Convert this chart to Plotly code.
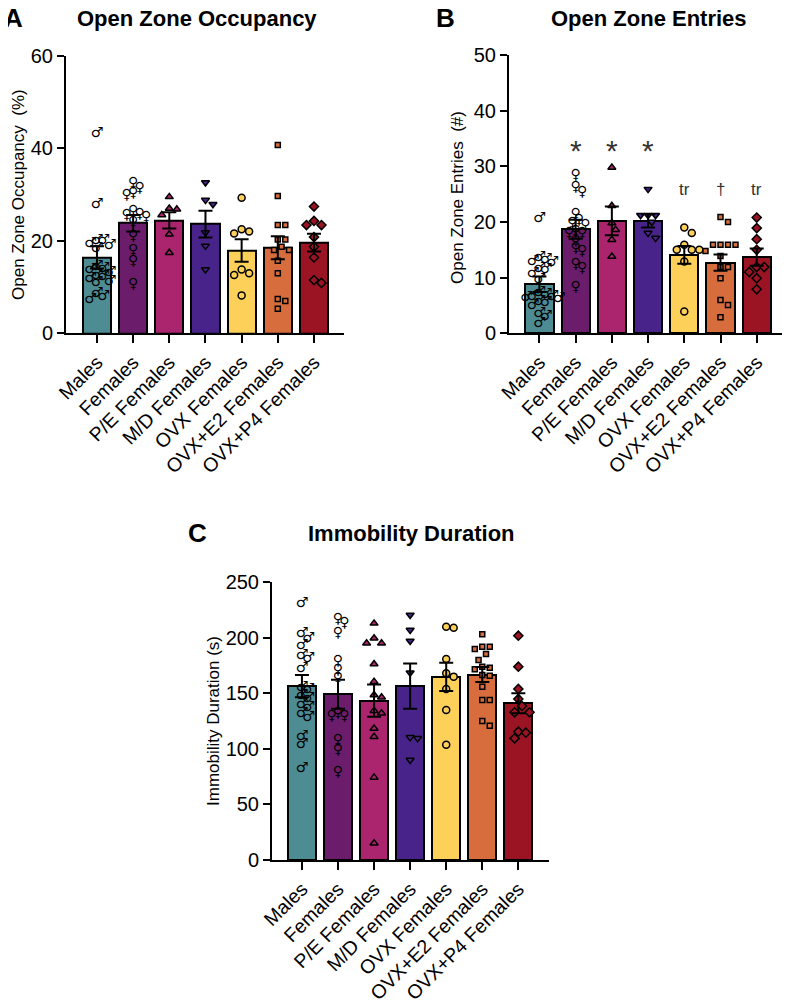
import plotly.graph_objects as go

# ---------------- data ----------------
groups = ["Males", "Females", "P/E Females", "M/D Females", "OVX Females",
          "OVX+E2 Females", "OVX+P4 Females"]
colors = ["#4E8C94", "#6B1C6A", "#AA246E", "#48248A", "#FDD05A", "#D76C3C", "#9B1423"]
symbols = ["male", "female", "triangle-up", "triangle-down", "circle", "square", "diamond"]

# Panel A: Open Zone Occupancy (%)
occ_mean = [16.4, 23.8, 24.4, 23.6, 17.9, 18.5, 19.6]
occ_sem = [2.4, 1.8, 1.75, 2.9, 2.45, 2.5, 1.9]
occ_males = [43.2, 27.9, 18.9, 20.0, 20.0, 18.4, 19.4, 13.8, 14.1, 14.4, 12.6, 13.2,
             12.2, 10.9, 11.9, 11.3, 7.4, 8.6, 8.0]
occ_females = [32.3, 31.3, 29.9, 30.3, 26.3, 25.0, 25.4, 25.6, 24.0, 20.9, 17.9, 15.5, 10.6]
occ_pe = [29.5, 27.0, 26.8, 25.6, 21.4, 17.4]
occ_md = [32.6, 28.8, 27.9, 21.8, 18.9, 13.8]
occ_ovx = [29.3, 22.5, 21.6, 22.0, 13.8, 12.6, 13.0, 8.2]
occ_e2 = [40.7, 29.7, 23.4, 23.4, 20.3, 20.3, 18.7, 18.0, 18.0, 15.7, 13.0, 7.4, 7.0, 5.3]
occ_p4 = [27.4, 24.3, 23.4, 23.4, 20.8, 18.7, 16.4, 10.9, 11.5]

# Panel B: Open Zone Entries (#)
ent_mean = [8.8, 18.7, 20.2, 20.2, 14.1, 12.7, 13.7]
ent_sem = [1.4, 1.7, 2.6, 1.2, 1.6, 1.45, 1.55]
ent_males = [20.7, 13.7, 13.3, 12.9, 12.7, 11.7, 11.4, 10.8, 9.6, 7.3, 6.9, 6.6, 6.6,
             6.5, 6.2, 5.7, 5.6, 5.0, 3.6, 3.0, 1.8]
ent_females = [28.3, 26.2, 25.3, 21.3, 20.2, 19.8, 19.3, 18.3, 18.0, 18.0, 16.5, 15.3,
               14.7, 12.3, 11.7, 8.3]
ent_pe = [29.8, 22.9, 19.8, 18.6, 16.8, 13.8]
ent_md = [25.9, 21.2, 21.2, 21.2, 20.0, 18.0, 17.1]
ent_ovx = [19.0, 18.0, 15.9, 15.0, 15.0, 15.0, 12.9, 3.9]
ent_e2 = [20.9, 20.0, 15.9, 15.9, 15.9, 15.9, 14.8, 13.9, 11.9, 11.9, 9.9, 6.0, 5.1, 2.9]
ent_p4 = [20.8, 18.9, 16.9, 15.0, 11.9, 11.9, 11.0, 9.9, 7.9]
ent_sig = ["", "*", "*", "*", "tr", "\u2020", "tr"]

# Panel C: Immobility Duration (s)
imm_mean = [156.3, 149.1, 143.4, 156.3, 164.7, 166.8, 140.9]
imm_sem = [10.0, 13.0, 14.5, 20.3, 12.7, 6.8, 9.0]
imm_males = [231, 204, 199, 193, 184, 181, 172, 155, 153, 148, 145, 140, 137, 132,
             128, 111, 104, 82]
imm_females = [212.8, 216.4, 203.9, 178.4, 170.3, 163.4, 129.5, 128.9, 131.3, 107.9,
               98.3, 78.5]
imm_pe = [212.8, 199.4, 194.9, 194.9, 176.3, 160.4, 146.3, 148.4, 131.9, 134.3, 118.3,
          110.8, 74.3, 15.0]
imm_md = [220.3, 206.8, 196.9, 168.4, 110.3, 109.4, 89.9]
imm_ovx = [208.9, 209.8, 180.8, 167.9, 164.9, 153.8, 134.9, 103.7]
imm_e2 = [203, 191.8, 189.7, 191.8, 185.3, 179.9, 172.9, 171.5, 173.8, 166.4, 165.7,
          155.8, 143.9, 143.9, 125.0, 120.8]
imm_p4 = [201.7, 173.8, 153.8, 144.8, 138.5, 132.8, 132.8, 115.4, 114.5, 109.4]

W, H = 790, 1000
OFF = 8  # page body margin
FONT = "Liberation Sans, Arial, Helvetica, sans-serif"
CAT_PX = 36.2


def px(x):
    return (x - OFF) / W


def py(y):
    return 1 - (y - OFF) / H


def swarm(vals, px_per_unit, step):
    """Simple beeswarm: returns x offsets (category units)."""
    placed = []
    order = sorted(range(len(vals)), key=lambda i: -vals[i])
    res = [0.0] * len(vals)
    cands = [0.0]
    for j in range(1, 40):
        cands += [j * step / 2, -j * step / 2]
    for i in order:
        y = vals[i] * px_per_unit
        for x in cands:
            if all((x - a) ** 2 + (y - b) ** 2 >= step ** 2 for a, b in placed):
                break
        placed.append((x, y))
        res[i] = x / CAT_PX
    return res


fig = go.Figure()

panels = [
    dict(xa="x", ya="y", means=occ_mean, sems=occ_sem,
         pts=[occ_males, occ_females, occ_pe, occ_md, occ_ovx, occ_e2, occ_p4],
         yr=[0, 60], ticks=[0, 20, 40, 60], xdom=[px(66), px(344)],
         ydom=[py(333.3), py(55.8)], xr=[-0.856, 6.83]),
    dict(xa="x2", ya="y2", means=ent_mean, sems=ent_sem,
         pts=[ent_males, ent_females, ent_pe, ent_md, ent_ovx, ent_e2, ent_p4],
         yr=[0, 50], ticks=[0, 10, 20, 30, 40, 50], xdom=[px(509), px(787.5)],
         ydom=[py(333.3), py(55)], xr=[-0.84, 6.85]),
    dict(xa="x3", ya="y3", means=imm_mean, sems=imm_sem,
         pts=[imm_males, imm_females, imm_pe, imm_md, imm_ovx, imm_e2, imm_p4],
         yr=[0, 250], ticks=[0, 50, 100, 150, 200, 250], xdom=[px(272), px(549)],
         ydom=[py(860), py(582)], xr=[-0.83, 6.85]),
]

for p in panels:
    ppu = (p["ydom"][1] - p["ydom"][0]) * H / (p["yr"][1] - p["yr"][0])
    xs = list(range(len(groups)))
    fig.add_trace(go.Bar(x=xs, y=p["means"], width=0.78, xaxis=p["xa"], yaxis=p["ya"],
                         marker=dict(color=colors, line=dict(color="black", width=2)),
                         showlegend=False, hoverinfo="skip"))
    for i, vals in enumerate(p["pts"]):
        sym = symbols[i]
        if sym in ("male", "female"):
            offs = swarm(vals, ppu, 6.5)
            fig.add_trace(go.Scatter(
                x=[i + o for o in offs], y=vals, xaxis=p["xa"], yaxis=p["ya"],
                mode="text", text=["\u2642" if sym == "male" else "\u2640"] * len(vals),
                textfont=dict(family="DejaVu Sans", size=14, color="black",
                              weight="bold"),
                showlegend=False, hoverinfo="skip"))
        else:
            size = {"square": 5, "diamond": 7, "circle": 7}.get(sym, 7)
            offs = swarm(vals, ppu, 7.5)
            fig.add_trace(go.Scatter(
                x=[i + o for o in offs], y=vals, xaxis=p["xa"], yaxis=p["ya"],
                mode="markers",
                marker=dict(symbol=sym, size=size, color=colors[i],
                            line=dict(color="black", width=1.5)),
                showlegend=False, hoverinfo="skip"))
    fig.add_trace(go.Scatter(
        x=xs, y=p["means"], xaxis=p["xa"], yaxis=p["ya"], mode="markers",
        marker=dict(size=1, opacity=0),
        error_y=dict(type="data", array=p["sems"], color="black", thickness=2, width=7),
        showlegend=False, hoverinfo="skip"))

axis_common = dict(showline=True, linecolor="black", linewidth=2, showgrid=False,
                   zeroline=False, ticks="outside", tickwidth=2, tickcolor="black",
                   ticklen=7, automargin=False,
                   tickfont=dict(family=FONT, size=20, color="black"))

layout = dict(width=W, height=H, margin=dict(l=0, r=0, t=0, b=0, autoexpand=False),
              plot_bgcolor="white", paper_bgcolor="white", bargap=0,
              font=dict(family=FONT, color="black"))
for k, p in enumerate(panels):
    sx = "" if k == 0 else str(k + 1)
    layout["xaxis" + sx] = dict(axis_common, domain=p["xdom"], range=p["xr"],
                                anchor="y" + sx, tickvals=list(range(len(groups))),
                                ticktext=groups, tickangle=-45, ticklen=8,
                                tickfont=dict(family=FONT, size=19.5, color="black"))
    layout["yaxis" + sx] = dict(axis_common, domain=p["ydom"], range=p["yr"],
                                anchor="x" + sx, tickvals=p["ticks"])
fig.update_layout(**layout)

annots = []


def txt(x, y, s, size, bold=False, angle=0, color="black"):
    annots.append(dict(x=px(x), y=py(y), xref="paper", yref="paper", text=s,
                       showarrow=False, textangle=angle, xanchor="center",
                       yanchor="middle",
                       font=dict(family=FONT, size=size, color=color,
                                 weight="bold" if bold else "normal")))


txt(13, 18, "A", 26, True)
txt(197, 18, "Open Zone Occupancy", 22, True)
txt(446, 18, "B", 26, True)
txt(649, 18, "Open Zone Entries", 22, True)
txt(197, 533, "C", 26, True)
txt(411, 533, "Immobility Duration", 22, True)
txt(18, 195, "Open Zone Occupancy  (%)", 17, angle=-90)
txt(458, 198, "Open Zone Entries  (#)", 17, angle=-90)
txt(213, 721, "Immobility Duration (s)", 17, angle=-90)

for i, s in enumerate(ent_sig):
    if not s:
        continue
    big = s == "*"
    annots.append(dict(x=i, y=32.8 if big else 25.9, xref="x2", yref="y2", text=s,
                       showarrow=False, yanchor="middle",
                       font=dict(family=FONT, size=30 if big else 17,
                                 color="#333333")))
fig.update_layout(annotations=annots)

fig.write_html("out.html")
